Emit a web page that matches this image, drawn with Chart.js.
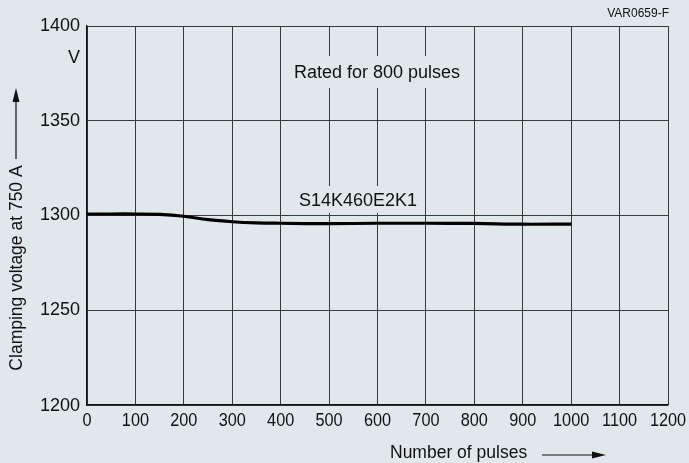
<!DOCTYPE html>
<html>
<head>
<meta charset="utf-8">
<script src="https://cdn.jsdelivr.net/npm/chart.js@4.4.1/dist/chart.umd.min.js"></script>
<style>
  html, body { margin: 0; padding: 0; background: #e0e8eb; }
  #wrap { width: 689px; height: 463px; position: relative; }
</style>
</head>
<body>
<div id="wrap"><canvas id="myChart"></canvas></div>
<script>
// data
const pulses = [0, 50, 100, 150, 200, 250, 300, 350, 400, 500, 600, 700, 800, 900, 1000];
const clampVoltage = [1300.8, 1300.8, 1300.8, 1300.6, 1299.6, 1297.8, 1296.7, 1296.1, 1295.9, 1295.7, 1295.9, 1295.9, 1295.8, 1295.4, 1295.5];
const xTicks = [0, 100, 200, 300, 400, 500, 600, 700, 800, 900, 1000, 1100, 1200];
const yTicks = [1200, 1250, 1300, 1350, 1400];

const bg = "#e0e8eb";
const font = "Liberation Sans, Arial, Helvetica, sans-serif";

function arrowHead(ctx, x, y, dir) {
  // dir: "up" or "right"
  ctx.beginPath();
  if (dir === "up") {
    ctx.moveTo(x, y);
    ctx.lineTo(x - 3.5, y + 14);
    ctx.lineTo(x + 3.5, y + 14);
  } else {
    ctx.moveTo(x, y);
    ctx.lineTo(x - 14, y - 3.5);
    ctx.lineTo(x - 14, y + 3.5);
  }
  ctx.closePath();
  ctx.fill();
}

function labelBox(ctx, text, cx, cy, x0, y0, x1, y1) {
  ctx.fillStyle = bg;
  ctx.fillRect(x0, y0, x1 - x0, y1 - y0);
  ctx.fillStyle = "#111";
  ctx.textAlign = "center";
  ctx.textBaseline = "middle";
  ctx.fillText(text, cx, cy);
}

const textPlugin = {
  id: "textPlugin",
  beforeDatasetsDraw(chart) {
    const ctx = chart.ctx;
    ctx.save();
    ctx.font = "18px " + font;
    labelBox(ctx, "Rated for 800 pulses", 377, 73, 286, 56, 469, 88);
    labelBox(ctx, "S14K460E2K1", 358, 201, 295, 186, 421, 213);
    ctx.restore();
  },
  afterDraw(chart) {
    const ctx = chart.ctx;
    const xs = chart.scales.x;
    const ys = chart.scales.y;
    ctx.save();
    ctx.fillStyle = "#111";
    ctx.strokeStyle = "#111";

    // tick labels (x ones slightly condensed like the original)
    ctx.font = "18.5px " + font;
    ctx.textAlign = "center";
    ctx.textBaseline = "middle";
    for (let v of xTicks) {
      ctx.save();
      ctx.translate(xs.getPixelForValue(v), 421);
      ctx.scale(0.88, 1);
      ctx.fillText(String(v), 0, 0);
      ctx.restore();
    }
    ctx.font = "18px " + font;
    ctx.textAlign = "right";
    for (let v of yTicks) {
      let py = ys.getPixelForValue(v);
      if (v === 1200) py += 1.5;
      ctx.fillText(String(v), 80, py);
    }
    ctx.fillText("V", 80, 58);

    // x axis title + arrow
    ctx.font = "17.5px " + font;
    ctx.textAlign = "left";
    ctx.fillText("Number of pulses", 390, 453);
    ctx.lineWidth = 1.2;
    ctx.beginPath();
    ctx.moveTo(542, 455);
    ctx.lineTo(594, 455);
    ctx.stroke();
    arrowHead(ctx, 606, 455, "right");

    // y axis title + arrow
    ctx.save();
    ctx.translate(17, 268);
    ctx.rotate(-Math.PI / 2);
    ctx.textAlign = "center";
    ctx.fillText("Clamping voltage at 750 A", 0, 0);
    ctx.restore();
    ctx.beginPath();
    ctx.moveTo(16, 159);
    ctx.lineTo(16, 100);
    ctx.stroke();
    arrowHead(ctx, 16, 88, "up");

    // figure code
    ctx.font = "12px " + font;
    ctx.textAlign = "right";
    ctx.fillText("VAR0659-F", 669, 14);
    ctx.restore();
  },
};

const ctx = document.getElementById("myChart");
const myChart = new Chart(ctx, {
  type: "line",
  data: {
    labels: pulses,
    datasets: [
      {
        data: pulses.map((p, i) => ({ x: p, y: clampVoltage[i] })),
        borderColor: "#000",
        borderWidth: 3.2,
        pointRadius: 0,
        tension: 0.4,
        fill: false,
      },
    ],
  },
  options: {
    responsive: true,
    maintainAspectRatio: false,
    animation: false,
    layout: { padding: { left: 87, right: 21, top: 26, bottom: 58 } },
    plugins: {
      legend: { display: false },
      tooltip: { enabled: false },
    },
    scales: {
      x: {
        type: "linear",
        min: 0,
        max: 1200,
        ticks: { display: false, stepSize: 100 },
        grid: { color: "#3a3a3a", lineWidth: 1, drawTicks: false },
        border: { color: "#111", width: 1.3 },
      },
      y: {
        min: 1200,
        max: 1400,
        ticks: { display: false, stepSize: 50 },
        grid: { color: "#3a3a3a", lineWidth: 1, drawTicks: false },
        border: { color: "#111", width: 1.3 },
      },
    },
  },
  plugins: [textPlugin],
});
</script>
</body>
</html>
